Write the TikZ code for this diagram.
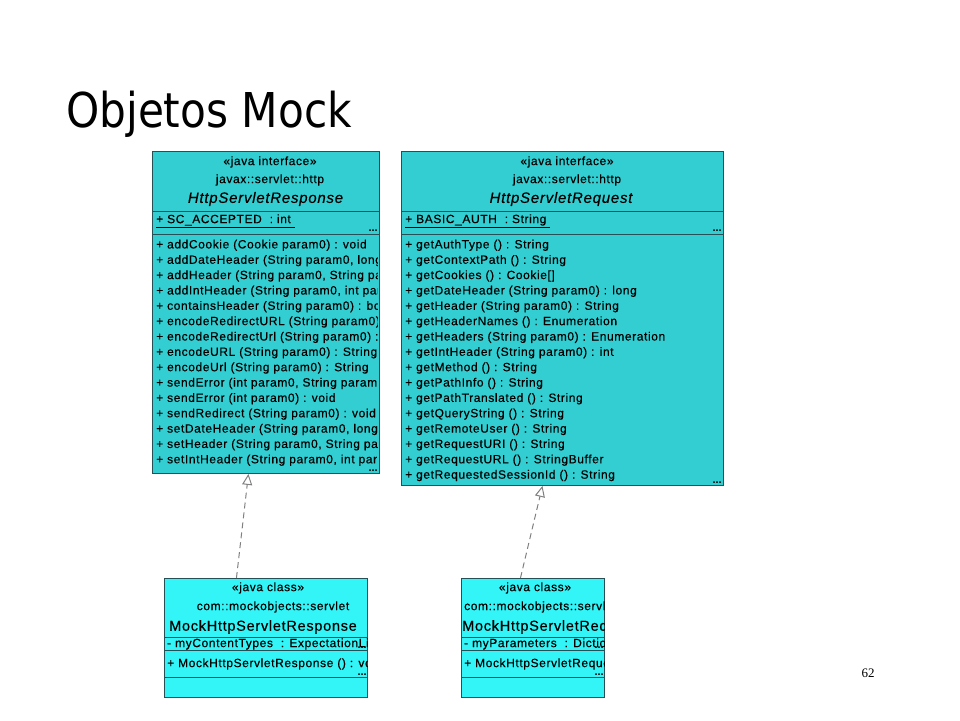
\documentclass[tikz,border=0pt]{standalone}
\usepackage{fontspec}
\usepackage{graphicx}
\setmainfont{Liberation Sans}
\newfontfamily\umlfont[LetterSpace=5, FakeBold=0.3]{Liberation Sans}
\newfontfamily\titlefont{DejaVu Sans}
\newfontfamily\pagefont{Liberation Serif}
\usetikzlibrary{arrows.meta, calc, positioning}
\definecolor{ifacecyan}{RGB}{51,206,210}
\definecolor{classcyan}{RGB}{51,244,246}
\definecolor{umlborder}{RGB}{38,80,86}
\definecolor{realizegray}{RGB}{128,128,128}
\tikzstyle{iface} = [rectangle, draw=umlborder, line width=0.9pt, fill=ifacecyan, anchor=north west, inner sep=0pt]
\tikzstyle{mockclass} = [rectangle, draw=umlborder, line width=0.9pt, fill=classcyan, anchor=north west, inner sep=0pt]
\tikzstyle{sep} = [draw=umlborder, line width=0.9pt]
\tikzstyle{stereo} = [font=\umlfont\fontsize{12}{14}\selectfont, inner sep=0pt]
\tikzstyle{ifname} = [font=\umlfont\fontsize{15}{17}\selectfont\itshape, inner sep=0pt]
\tikzstyle{clsname} = [font=\umlfont\fontsize{14.5}{17}\selectfont, inner sep=0pt, anchor=west]
\tikzstyle{members} = [font=\umlfont\fontsize{12}{15.35}\selectfont, align=left, anchor=north west, inner sep=0pt]
\tikzstyle{attr} = [font=\umlfont\fontsize{12}{14}\selectfont, anchor=west, inner sep=0pt]
\tikzstyle{more} = [font=\fontsize{11}{11}\selectfont\bfseries, inner sep=0pt, anchor=south east]
\tikzstyle{realize} = [draw=realizegray, line width=1pt, dash pattern=on 6pt off 4pt, -{Triangle[open, length=11pt, width=10pt, fill=white]}]

\begin{document}
\begin{tikzpicture}[x=1pt, y=-1pt]
    \useasboundingbox (0,0) rectangle (960,720);

    % Title
    \node[anchor=base west, inner sep=0pt, font=\titlefont\fontsize{48}{52}\selectfont] (title) at (66,127) {\scalebox{0.88}[1]{Objetos Mock}};
    \node[font=\pagefont\fontsize{13}{14}\selectfont] (pagenum) at (868,673) {62};

    % Interfaces
    \node[iface, minimum width=227pt, minimum height=322pt] (resp) at (152,151) {};
    \node[iface, minimum width=322pt, minimum height=334pt] (req) at (401,151) {};
    \draw[sep] ($(resp.north west)+(0,60)$) -- ($(resp.north east)+(0,60)$);
    \draw[sep] ($(resp.north west)+(0,83)$) -- ($(resp.north east)+(0,83)$);
    \draw[sep] ($(req.north west)+(0,60)$) -- ($(req.north east)+(0,60)$);
    \draw[sep] ($(req.north west)+(0,83)$) -- ($(req.north east)+(0,83)$);

    % Mock classes
    \node[mockclass, minimum width=203pt, minimum height=119pt] (mresp) at (164,578) {};
    \node[mockclass, minimum width=143pt, minimum height=119pt] (mreq) at (461,578) {};
    \draw[sep] ($(mresp.north west)+(0,59)$) -- ($(mresp.north east)+(0,59)$);
    \draw[sep] ($(mresp.north west)+(0,72)$) -- ($(mresp.north east)+(0,72)$);
    \draw[sep] ($(mresp.north west)+(0,99)$) -- ($(mresp.north east)+(0,99)$);
    \draw[sep] ($(mreq.north west)+(0,59)$) -- ($(mreq.north east)+(0,59)$);
    \draw[sep] ($(mreq.north west)+(0,72)$) -- ($(mreq.north east)+(0,72)$);
    \draw[sep] ($(mreq.north west)+(0,99)$) -- ($(mreq.north east)+(0,99)$);

    % HttpServletResponse text
    \begin{scope}
        \clip (resp.north west) rectangle ([xshift=-2pt]resp.south east);
        \node[stereo] (respStereo) at (270,162) {«java interface»};
        \node[stereo] (respPkg) at (270,180) {javax::servlet::http};
        \node[ifname] (respName) at (265.5,199) {HttpServletResponse};
        \node[attr] (respAttr) at (156,221) {\underline{+ SC\_ACCEPTED~~: int~}};
        \node[members] (respOps) at (156,239.5) {%
            + addCookie (Cookie param0) : void\\
            + addDateHeader (String param0, long param1) : void\\
            + addHeader (String param0, String param1) : void\\
            + addIntHeader (String param0, int param1) : void\\
            + containsHeader (String param0) : boolean\\
            + encodeRedirectURL (String param0) : String\\
            + encodeRedirectUrl (String param0) : String\\
            + encodeURL (String param0) : String\\
            + encodeUrl (String param0) : String\\
            + sendError (int param0, String param1) : void\\
            + sendError (int param0) : void\\
            + sendRedirect (String param0) : void\\
            + setDateHeader (String param0, long param1) : void\\
            + setHeader (String param0, String param1) : void\\
            + setIntHeader (String param0, int param1) : void};
    \end{scope}
    \node[more] (respMoreA) at ($(resp.north east)+(-2,81)$) {...};
    \node[more] (respMoreB) at ($(resp.south east)+(-2,-2)$) {...};

    % HttpServletRequest text
    \node[stereo] (reqStereo) at (567,162) {«java interface»};
    \node[stereo] (reqPkg) at (567,180) {javax::servlet::http};
    \node[ifname] (reqName) at (561,199) {HttpServletRequest};
    \node[attr] (reqAttr) at (405,221) {\underline{+ BASIC\_AUTH~~: String~}};
    \node[members] (reqOps) at (405,239.5) {%
        + getAuthType () : String\\
        + getContextPath () : String\\
        + getCookies () : Cookie[]\\
        + getDateHeader (String param0) : long\\
        + getHeader (String param0) : String\\
        + getHeaderNames () : Enumeration\\
        + getHeaders (String param0) : Enumeration\\
        + getIntHeader (String param0) : int\\
        + getMethod () : String\\
        + getPathInfo () : String\\
        + getPathTranslated () : String\\
        + getQueryString () : String\\
        + getRemoteUser () : String\\
        + getRequestURI () : String\\
        + getRequestURL () : StringBuffer\\
        + getRequestedSessionId () : String};
    \node[more] (reqMoreA) at ($(req.north east)+(-2,81)$) {...};
    \node[more] (reqMoreB) at ($(req.south east)+(-2,-2)$) {...};

    % MockHttpServletResponse text
    \begin{scope}
        \clip (mresp.north west) rectangle (mresp.south east);
        \node[stereo] (mrespStereo) at (268,588) {«java class»};
        \node[stereo] (mrespPkg) at (273,607) {com::mockobjects::servlet};
        \node[clsname] (mrespName) at (169,627) {MockHttpServletResponse};
        \node[attr] (mrespAttr) at (167,644) {- myContentTypes~~: ExpectationList};
        \node[attr] (mrespOps) at (167,664) {+ MockHttpServletResponse () : void};
    \end{scope}
    \node[more] (mrespMoreA) at ($(mresp.north east)+(-1,71)$) {...};
    \node[more] (mrespMoreB) at ($(mresp.north east)+(-1,98)$) {...};

    % MockHttpServletRequest text
    \begin{scope}
        \clip (mreq.north west) rectangle (mreq.south east);
        \node[stereo] (mreqStereo) at (535,588) {«java class»};
        \node[stereo, anchor=west] (mreqPkg) at (464,607) {com::mockobjects::servlet};
        \node[clsname] (mreqName) at (462,627) {MockHttpServletRequest};
        \node[attr] (mreqAttr) at (464,644) {- myParameters~~: Dictionary};
        \node[attr] (mreqOps) at (464,664) {+ MockHttpServletRequest () : void};
    \end{scope}
    \node[more] (mreqMoreA) at ($(mreq.north east)+(-1,71)$) {...};
    \node[more] (mreqMoreB) at ($(mreq.north east)+(-1,98)$) {...};

    % Realizations
    \draw[realize] ([xshift=-29.5pt]mresp.north) -- ([xshift=-17.5pt]resp.south);
    \draw[realize] ([xshift=-12.5pt]mreq.north) -- ([xshift=-20pt]req.south);

\end{tikzpicture}
\end{document}
